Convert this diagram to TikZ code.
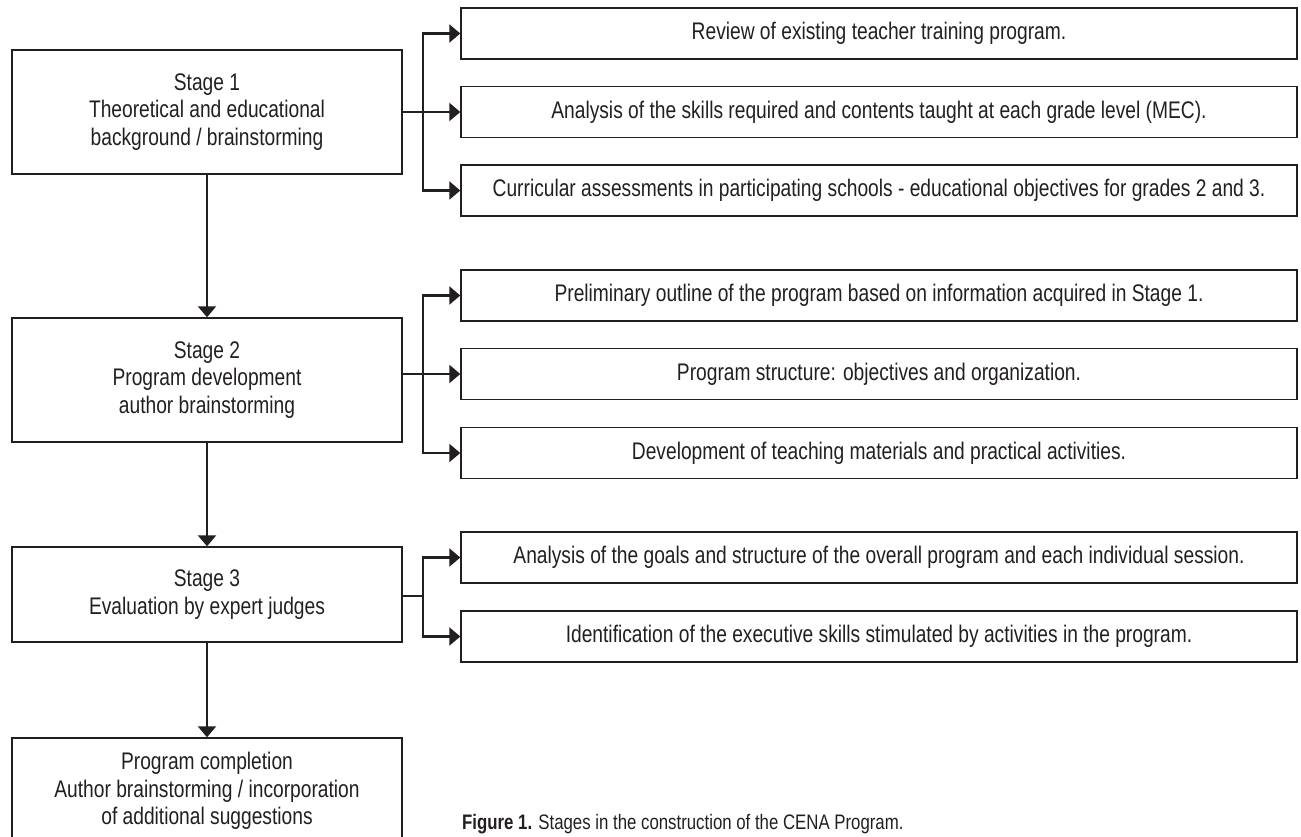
\documentclass[tikz,border=0pt]{standalone}
\usepackage{fontspec}
\setmainfont{Liberation Sans}[FakeStretch=0.8]
\usetikzlibrary{arrows.meta}
\definecolor{ink}{HTML}{231F20}
\tikzset{
  stagebox/.style={draw=ink, line width=1.4pt, text=ink, align=center, inner sep=0pt,
    minimum width=390pt, font=\fontsize{24}{27.5}\selectfont},
  itembox/.style={draw=ink, line width=1.4pt, text=ink, align=center, inner sep=0pt,
    minimum width=836pt, minimum height=51pt, font=\fontsize{24}{27.5}\selectfont},
  conn/.style={draw=ink, line width=2.2pt},
  arr/.style={conn, -{Triangle[length=11pt,width=18pt]}},
}
\begin{document}
\begin{tikzpicture}[x=1pt,y=-1pt]
\clip (0,0) rectangle (1301,836);
% stages
\node[stagebox, minimum height=124pt] (s1) at (207,112) {Stage 1\\Theoretical and educational\\background / brainstorming};
\node[stagebox, minimum height=124pt] (s2) at (207,380) {Stage 2\\Program development\\author brainstorming};
\node[stagebox, minimum height=95pt] (s3) at (207,594.5) {Stage 3\\Evaluation by expert judges};
\node[stagebox, minimum height=106pt] (s4) at (207,791) {Program completion\\Author brainstorming / incorporation\\of additional suggestions};
% items stage 1
\node[itembox] (a1) at (879,33.5) {Review of existing teacher training program.};
\node[itembox] (a2) at (879,112) {Analysis of the skills required and contents taught at each grade level (MEC).};
\node[itembox] (a3) at (879,190.5) {Curricular assessments in participating schools - educational objectives for grades 2 and 3.};
% items stage 2
\node[itembox] (b1) at (879,295.5) {Preliminary outline of the program based on information acquired in Stage 1.};
\node[itembox] (b2) at (879,374) {Program structure: objectives and organization.};
\node[itembox] (b3) at (879,453) {Development of teaching materials and practical activities.};
% items stage 3
\node[itembox] (c1) at (879,557.5) {Analysis of the goals and structure of the overall program and each individual session.};
\node[itembox] (c2) at (879,636.5) {Identification of the executive skills stimulated by activities in the program.};
% junctions
\coordinate (j1) at (423,112);
\coordinate (j2) at (423,374);
\coordinate (j3) at (423,596);
% vertical flow
\draw[arr] (s1.south) -- (s2.north);
\draw[arr] (s2.south) -- (s3.north);
\draw[arr] (s3.south) -- (s4.north);
% branches
\draw[conn] (s1.east |- j1) -- (j1);
\draw[arr] (j1) |- (a1.west);
\draw[arr] (j1) -- (a2.west);
\draw[arr] (j1) |- (a3.west);
\draw[conn] (s2.east |- j2) -- (j2);
\draw[arr] (j2) |- (b1.west);
\draw[arr] (j2) -- (b2.west);
\draw[arr] (j2) |- (b3.west);
\draw[conn] (s3.east |- j3) -- (j3);
\draw[arr] (j3) |- (c1.west);
\draw[arr] (j3) |- (c2.west);
% caption
\node[anchor=base west, inner sep=0pt, text=ink, font=\fontsize{21}{24}\selectfont] (cap) at (462,829) {\textbf{Figure 1.} Stages in the construction of the CENA Program.};
\end{tikzpicture}
\end{document}
